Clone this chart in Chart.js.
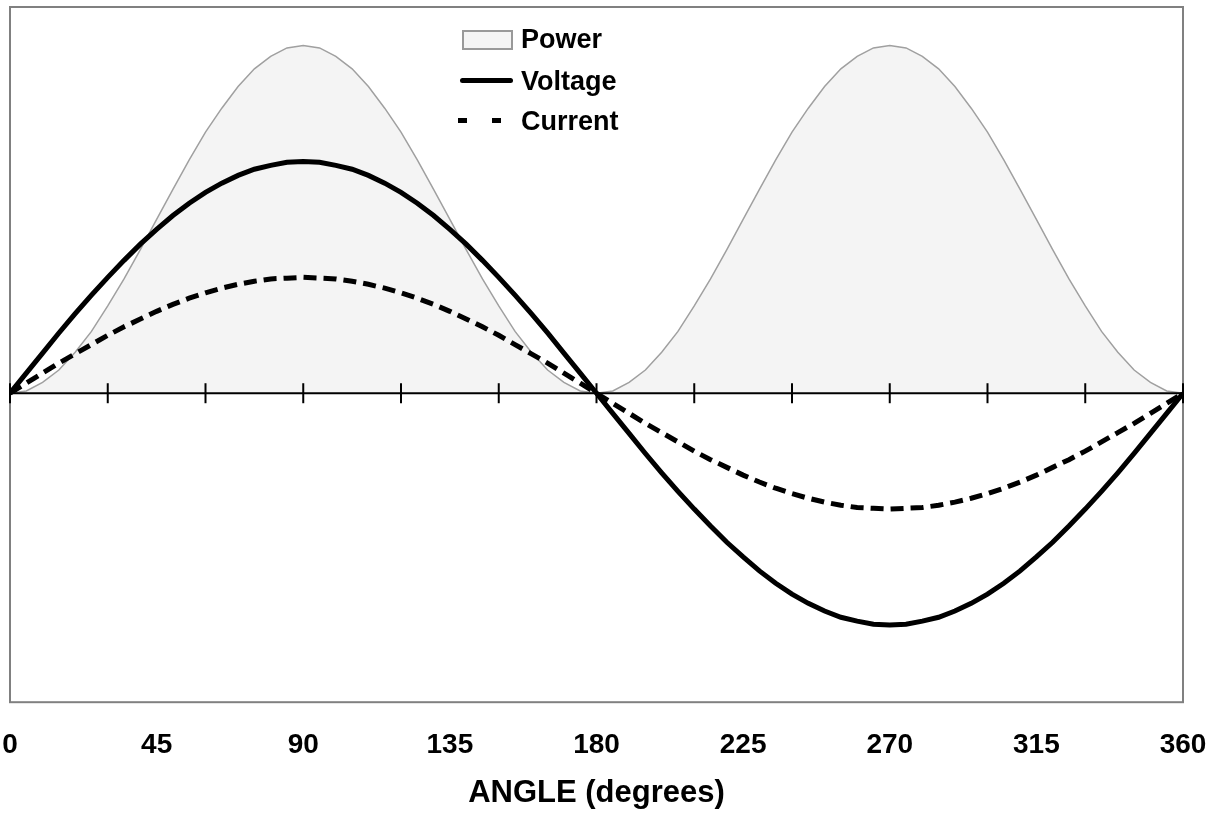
<!DOCTYPE html>
<html lang="en">
<head>
    <meta charset="UTF-8">
    <title>Power, Voltage and Current</title>
    <script src="https://cdn.jsdelivr.net/npm/chart.js"></script>
    <style>
        body { margin:0; background:#fff; font-family: 'Liberation Sans', Arial, sans-serif; }
        .wrap { position:relative; width:1215px; height:822px; }
        .legend { position:absolute; left:0; top:0; }
        .legend .row { position:absolute; left:458px; height:40px; display:flex; align-items:center; white-space:nowrap; }
        .legend .swatch { position:relative; width:56px; height:40px; margin-right:7px; }
        .legend .label { font-size:27px; font-weight:700; color:#000; line-height:27px; }
        .sw-power { position:absolute; left:4px; top:11px; width:47px; height:16px; background:#f4f4f4; border:2px solid #999; }
        .sw-volt { position:absolute; left:2px; top:17px; width:53px; height:5px; background:#000; border-radius:3px; }
        .sw-dash { position:absolute; top:17px; width:9px; height:5px; background:#000; }
    </style>
</head>
<body>
    <div class="wrap">
        <canvas id="powerChart"></canvas>
        <div class="legend" id="legend"></div>
    </div>
    <script>
    // angle samples (degrees)
    const angles = [0,5,10,15,20,25,30,35,40,45,50,55,60,65,70,75,80,85,90,
        95,100,105,110,115,120,125,130,135,140,145,150,155,160,165,170,175,180,
        185,190,195,200,205,210,215,220,225,230,235,240,245,250,255,260,265,270,
        275,280,285,290,295,300,305,310,315,320,325,330,335,340,345,350,355,360];

    const voltage = [0,0.26,0.52,0.78,1.03,1.27,1.50,1.72,1.93,2.12,2.30,2.46,2.60,2.72,2.82,2.90,2.95,2.99,3.00,
        2.99,2.95,2.90,2.82,2.72,2.60,2.46,2.30,2.12,1.93,1.72,1.50,1.27,1.03,0.78,0.52,0.26,0,
        -0.26,-0.52,-0.78,-1.03,-1.27,-1.50,-1.72,-1.93,-2.12,-2.30,-2.46,-2.60,-2.72,-2.82,-2.90,-2.95,-2.99,-3.00,
        -2.99,-2.95,-2.90,-2.82,-2.72,-2.60,-2.46,-2.30,-2.12,-1.93,-1.72,-1.50,-1.27,-1.03,-0.78,-0.52,-0.26,0];

    const current = [0,0.13,0.26,0.39,0.51,0.63,0.75,0.86,0.96,1.06,1.15,1.23,1.30,1.36,1.41,1.45,1.48,1.49,1.50,
        1.49,1.48,1.45,1.41,1.36,1.30,1.23,1.15,1.06,0.96,0.86,0.75,0.63,0.51,0.39,0.26,0.13,0,
        -0.13,-0.26,-0.39,-0.51,-0.63,-0.75,-0.86,-0.96,-1.06,-1.15,-1.23,-1.30,-1.36,-1.41,-1.45,-1.48,-1.49,-1.50,
        -1.49,-1.48,-1.45,-1.41,-1.36,-1.30,-1.23,-1.15,-1.06,-0.96,-0.86,-0.75,-0.63,-0.51,-0.39,-0.26,-0.13,0];

    const power = [0,0.03,0.14,0.30,0.53,0.80,1.13,1.48,1.86,2.25,2.64,3.02,3.38,3.69,3.97,4.20,4.36,4.47,4.50,
        4.47,4.36,4.20,3.97,3.69,3.38,3.02,2.64,2.25,1.86,1.48,1.13,0.80,0.53,0.30,0.14,0.03,0,
        0.03,0.14,0.30,0.53,0.80,1.13,1.48,1.86,2.25,2.64,3.02,3.38,3.69,3.97,4.20,4.36,4.47,4.50,
        4.47,4.36,4.20,3.97,3.69,3.38,3.02,2.64,2.25,1.86,1.48,1.13,0.80,0.53,0.30,0.14,0.03,0];

    const xTickLabels = [0,45,90,135,180,225,270,315,360];
    const zeroTicks = [0,30,60,90,120,150,180,210,240,270,300,330,360];
    const seriesNames = ['Power','Voltage','Current'];

    const FONT = "'Liberation Sans', Arial, sans-serif";

    function pts(ys) {
        return angles.map((a, i) => ({ x: a, y: ys[i] }));
    }

    // grey frame around the plot area
    const frame = {
        id: 'frame',
        beforeDatasetsDraw(chart) {
            const { ctx, chartArea: a } = chart;
            ctx.save();
            ctx.strokeStyle = '#808080';
            ctx.lineWidth = 2;
            ctx.strokeRect(a.left, a.top, a.right - a.left, a.bottom - a.top);
            ctx.restore();
        }
    };

    const ctx = document.getElementById('powerChart').getContext('2d');
    new Chart(ctx, {
        type: 'line',
        data: {
            datasets: [
                {
                    label: seriesNames[1],
                    data: pts(voltage),
                    borderColor: '#000',
                    borderWidth: 5,
                    pointRadius: 0,
                    tension: 0,
                    order: 0
                },
                {
                    label: seriesNames[2],
                    data: pts(current),
                    borderColor: '#000',
                    borderWidth: 5,
                    borderDash: [13, 7],
                    pointRadius: 0,
                    tension: 0,
                    order: 1
                },
                {
                    label: 'axis',
                    data: zeroTicks.map(v => ({ x: v, y: 0 })),
                    borderColor: '#000',
                    borderWidth: 2,
                    pointStyle: 'line',
                    pointRotation: 90,
                    pointRadius: 10,
                    pointBorderWidth: 2,
                    pointBorderColor: '#000',
                    clip: false,
                    order: 2
                },
                {
                    label: seriesNames[0],
                    data: pts(power),
                    borderColor: '#a0a0a0',
                    borderWidth: 1.5,
                    backgroundColor: '#f4f4f4',
                    fill: 'origin',
                    pointRadius: 0,
                    tension: 0,
                    order: 3
                }
            ]
        },
        options: {
            responsive: true,
            maintainAspectRatio: false,
            animation: false,
            layout: { autoPadding: false, padding: { left: 10, right: 32, top: 7, bottom: 6 } },
            plugins: {
                legend: { display: false },
                tooltip: { enabled: false }
            },
            scales: {
                x: {
                    type: 'linear',
                    min: 0,
                    max: 360,
                    afterBuildTicks: s => { s.ticks = xTickLabels.map(v => ({ value: v })); },
                    grid: { display: false, drawTicks: true, tickLength: 26 },
                    border: { display: false },
                    ticks: {
                        color: '#000',
                        padding: 0,
                        maxRotation: 0,
                        autoSkip: false,
                        font: { family: FONT, size: 28, weight: 'bold' }
                    },
                    title: {
                        display: true,
                        text: 'ANGLE (degrees)',
                        color: '#000',
                        padding: { top: 13, bottom: 4 },
                        font: { family: FONT, size: 31, weight: 'bold' }
                    }
                },
                y: { min: -4, max: 5, display: false }
            }
        },
        plugins: [frame]
    });

    // legend drawn as html over the plot
    function renderLegend() {
        const el = document.getElementById('legend');
        const tops = [19, 61, 101];
        const swatches = [
            '<div class="sw-power"></div>',
            '<div class="sw-volt"></div>',
            '<div class="sw-dash" style="left:0px"></div><div class="sw-dash" style="left:34px"></div>'
        ];
        el.innerHTML = seriesNames.map((n, i) =>
            `<div class="row" style="top:${tops[i]}px"><div class="swatch">${swatches[i]}</div><span class="label">${n}</span></div>`
        ).join('');
    }
    renderLegend();
    </script>
</body>
</html>
